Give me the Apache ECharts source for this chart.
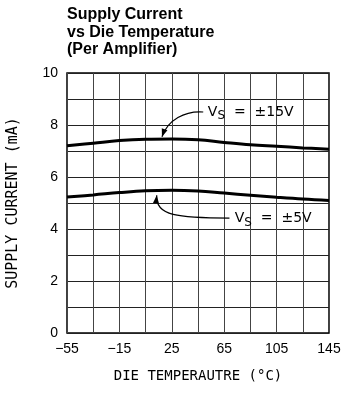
<!DOCTYPE html>
<html>
<head>
<meta charset="utf-8">
<script src="https://cdn.jsdelivr.net/npm/echarts@6/dist/echarts.min.js"></script>
<style>
  html, body { margin: 0; padding: 0; background: #fff; }
  #chart { width: 341px; height: 394px; }
</style>
</head>
<body>
<div id="chart"></div>
<script>
// data
const temps = [-55, -35, -15, 5, 25, 45, 65, 85, 105, 125, 145]
const supply15 = [7.20, 7.30, 7.40, 7.45, 7.46, 7.43, 7.33, 7.24, 7.18, 7.12, 7.07]
const supply5 = [5.23, 5.31, 5.40, 5.47, 5.49, 5.46, 5.38, 5.30, 5.22, 5.15, 5.10]
const xTicks = [-55, -15, 25, 65, 105, 145]
const yTicks = [0, 2, 4, 6, 8, 10]

const chart = echarts.init(document.getElementById('chart'))

const pairs = arr => temps.map((t, i) => [t, arr[i]])
const minus = v => String(v).replace('-', '\u2212')

chart.setOption({
  animation: false,
  title: {
    text: 'Supply Current\nvs Die Temperature\n(Per Amplifier)',
    left: 67,
    top: 6,
    padding: 0,
    textStyle: { fontFamily: 'Liberation Sans', fontWeight: 'bold', fontSize: 16, lineHeight: 17.5, color: '#000' }
  },
  grid: {
    left: 67, right: 12, top: 73, bottom: 61,
    outerBoundsMode: 'none',
    show: true, borderColor: '#000', borderWidth: 1.5
  },
  xAxis: {
    type: 'value',
    min: -55, max: 145, interval: 20,
    name: 'DIE TEMPERAUTRE (\u00B0C)',
    nameLocation: 'middle',
    nameGap: 36,
    nameTextStyle: { fontFamily: 'DejaVu Sans Mono', fontSize: 14, color: '#000' },
    axisLine: { show: false },
    axisTick: { show: false },
    splitLine: { lineStyle: { color: '#444', width: 1 } },
    axisLabel: {
      margin: 9,
      fontFamily: 'Liberation Sans', fontSize: 14, color: '#000',
      formatter: v => xTicks.includes(v) ? minus(v) : ''
    }
  },
  yAxis: {
    type: 'value',
    min: 0, max: 10, interval: 1,
    name: 'SUPPLY CURRENT (mA)',
    nameLocation: 'middle',
    nameGap: 46,
    nameTextStyle: { fontFamily: 'DejaVu Sans Mono', fontSize: 15, color: '#000' },
    axisLine: { show: false },
    axisTick: { show: false },
    splitLine: { lineStyle: { color: '#222', width: 1 } },
    axisLabel: {
      margin: 9,
      fontFamily: 'Liberation Sans', fontSize: 14, color: '#000',
      formatter: v => yTicks.includes(v) ? String(v) : ''
    }
  },
  series: [
    { name: 'VS = ±15V', type: 'line', data: pairs(supply15), smooth: 0.4, showSymbol: false,
      lineStyle: { color: '#000', width: 3 } },
    { name: 'VS = ±5V', type: 'line', data: pairs(supply5), smooth: 0.4, showSymbol: false,
      lineStyle: { color: '#000', width: 3 } }
  ]
})

// annotation callouts, placed in data coordinates
const notes = [
  { text: '  =  \u00B115V', label: [52.5, 8.5], path: [[49, 8.5], [35, 8.55], [22, 8.2], [17.5, 7.55]] },
  { text: '  =  \u00B15V', label: [73, 4.4], path: [[69, 4.42], [30, 4.42], [12, 4.5], [13.5, 5.3]] }
]

const px = p => chart.convertToPixel({ gridIndex: 0 }, p)
const graphic = []
notes.forEach(n => {
  const [p0, p1, p2, p3] = n.path.map(px)
  graphic.push({
    type: 'bezierCurve',
    shape: { x1: p0[0], y1: p0[1], cpx1: p1[0], cpy1: p1[1], cpx2: p2[0], cpy2: p2[1], x2: p3[0], y2: p3[1] },
    style: { stroke: '#000', lineWidth: 1.2, fill: null }
  })
  // arrow head along the end tangent
  const dx = p3[0] - p2[0], dy = p3[1] - p2[1]
  const len = Math.hypot(dx, dy)
  const ux = dx / len, uy = dy / len
  const L = 8, W = 3
  const bx = p3[0] - ux * L, by = p3[1] - uy * L
  graphic.push({
    type: 'polygon',
    shape: { points: [[p3[0], p3[1]], [bx - uy * W, by + ux * W], [bx + uy * W, by - ux * W]] },
    style: { fill: '#000' }
  })
  const lp = px(n.label)
  graphic.push({
    type: 'text',
    x: lp[0], y: lp[1],
    style: {
      text: '{v|V}{s|S}{v|' + n.text + '}',
      verticalAlign: 'middle',
      rich: {
        v: { fontFamily: 'DejaVu Sans', fontSize: 14, fill: '#000' },
        s: { fontFamily: 'DejaVu Sans', fontSize: 12, fill: '#000', padding: [8, 0, 0, 0] }
      }
    }
  })
})
chart.setOption({ graphic })

window.addEventListener('resize', () => chart.resize())
</script>
</body>
</html>
